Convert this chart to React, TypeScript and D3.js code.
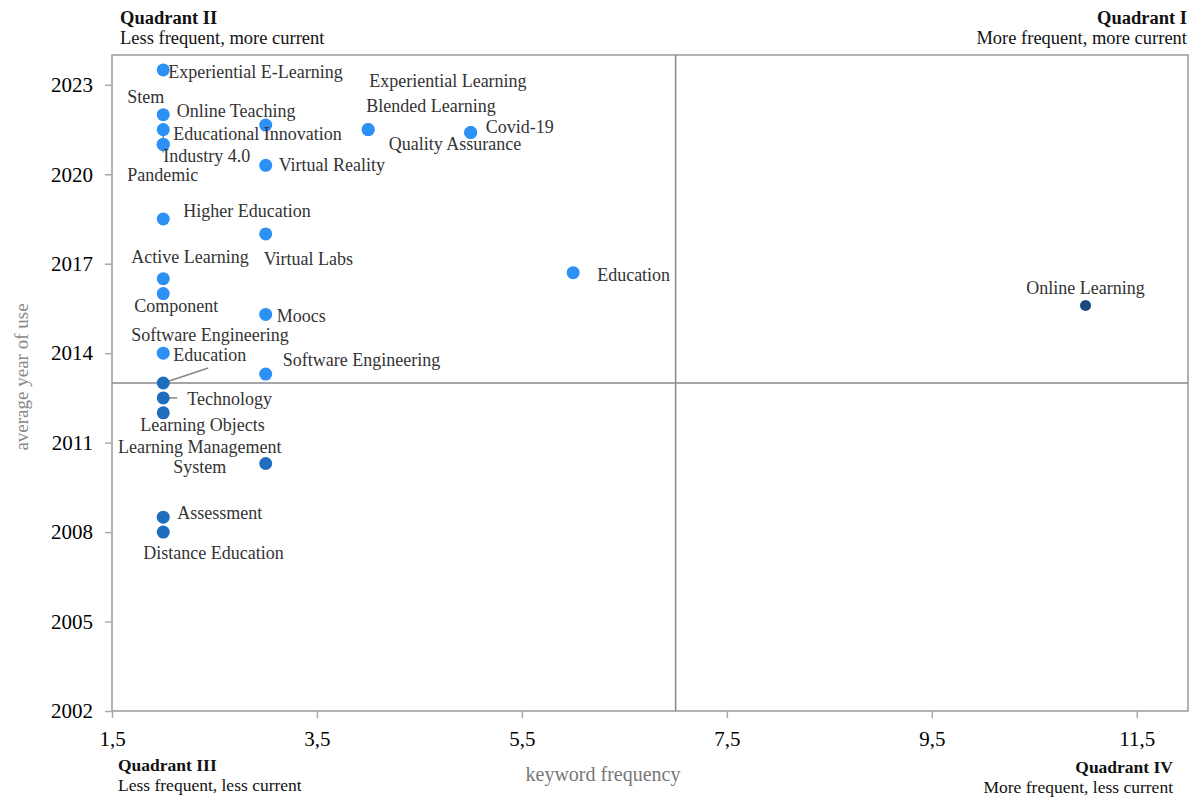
import React, { useEffect, useRef } from 'react';
import * as d3 from 'd3';

// keyword map data (frequency vs. average year of use)
const keywords = [
  'Experiential E-Learning', 'Stem', 'Online Teaching', 'Educational Innovation',
  'Industry 4.0', 'Pandemic', 'Experiential Learning', 'Blended Learning',
  'Covid-19', 'Quality Assurance', 'Virtual Reality', 'Higher Education',
  'Virtual Labs', 'Active Learning', 'Component', 'Moocs', 'Education',
  'Software Engineering', 'Education', 'Software Engineering', 'Technology',
  'Learning Objects', 'Learning Management System', 'Assessment',
  'Distance Education', 'Online Learning',
];
const frequency = [2, 2, 3, 2, 2, 2, 4, 4, 5, 5, 3, 2, 3, 2, 2, 3, 6, 2, 2, 3, 2, 2, 3, 2, 2, 11];
const avgYear = [
  2023.5, 2022, 2021.65, 2021.5, 2021, 2021, 2021.5, 2021.5, 2021.4, 2021.4, 2020.3,
  2018.5, 2018, 2016.5, 2016, 2015.3, 2016.7, 2014, 2013, 2013.3, 2012.5, 2012,
  2010.3, 2008.5, 2008, 2015.6,
];

const xTicks = [1.5, 3.5, 5.5, 7.5, 9.5, 11.5];
const yTicks = [2002, 2005, 2008, 2011, 2014, 2017, 2020, 2023];
const xSplit = 7;
const ySplit = 2013;

const quadTitles = ['Quadrant I', 'Quadrant II', 'Quadrant III', 'Quadrant IV'];
const quadSubs = [
  'More frequent, more current', 'Less frequent, more current',
  'Less frequent, less current', 'More frequent, less current',
];

// hand placed label offsets (px from the dot), like the original's manual layout
const labelLayout = [
  { dx: 5, dy: 8 }, { dx: -36, dy: -12 }, { dx: -89, dy: -8 }, { dx: 10, dy: 10 },
  { dx: 0, dy: 17.5, leader: [0, -15, 0, 8] }, { dx: -36, dy: 36.5 },
  { dx: 1, dy: -42.5 }, { dx: -2, dy: -17.5 }, { dx: 15, dy: 0.5 }, { dx: -82, dy: 17.5 },
  { dx: 13, dy: 6 }, { dx: 20, dy: -2 }, { dx: -2, dy: 31 }, { dx: -32, dy: -15.5 },
  { dx: -29, dy: 18.5 }, { dx: 11, dy: 7.5 }, { dx: 24, dy: 8 }, { dx: -32, dy: -12 },
  { dx: 10, dy: -22, leader: [0, 0, 45, -15] }, { dx: 17, dy: -8 },
  { dx: 24, dy: 7, leader: [0, 0, 14, 0] }, { dx: -23, dy: 18 },
  { dx: -66, dy: -10.5, anchor: 'middle', lines: ['Learning Management', 'System'] },
  { dx: 14, dy: 2 }, { dx: -20, dy: 27 }, { dx: 0, dy: -11.5, anchor: 'middle' },
];

const W = 1195;
const H = 798;
const margin = { top: 55, right: 7, bottom: 87, left: 112 };
const font = '"Liberation Serif", "Times New Roman", serif';

export default function App() {
  const svgRef = useRef<SVGSVGElement>(null);

  useEffect(() => {
    const svg = d3.select(svgRef.current);
    svg.selectAll('*').remove();

    const x = d3.scaleLinear([1.5, 12], [margin.left, W - margin.right]);
    const y = d3.scaleLinear([2002, 2024], [H - margin.bottom, margin.top]);
    const comma = d3.formatLocale({ decimal: ',', thousands: '.', grouping: [3], currency: ['', ''] }).format('.1f');

    const color = (f, yr) => (yr <= ySplit ? '#1f6dbd' : f > xSplit ? '#19497f' : '#2c90f4');

    // frame
    svg.append('rect')
      .attr('x', x(1.5)).attr('y', y(2024))
      .attr('width', x(12) - x(1.5)).attr('height', y(2002) - y(2024))
      .attr('fill', 'none').attr('stroke', '#999').attr('stroke-width', 1.5);

    // quadrant split lines
    svg.append('line')
      .attr('x1', x(xSplit)).attr('x2', x(xSplit)).attr('y1', y(2024)).attr('y2', y(2002))
      .attr('stroke', '#888').attr('stroke-width', 1.5);
    svg.append('line')
      .attr('x1', x(1.5)).attr('x2', x(12)).attr('y1', y(ySplit)).attr('y2', y(ySplit))
      .attr('stroke', '#888').attr('stroke-width', 1.5);

    const gx = svg.append('g')
      .attr('transform', `translate(0,${y(2002)})`)
      .call(d3.axisBottom(x).tickValues(xTicks).tickFormat(comma).tickSize(7).tickPadding(13));
    const gy = svg.append('g')
      .attr('transform', `translate(${x(1.5)},0)`)
      .call(d3.axisLeft(y).tickValues(yTicks).tickFormat(d3.format('d')).tickSize(7).tickPadding(12));
    [gx, gy].forEach(g => {
      g.select('.domain').remove();
      g.selectAll('.tick line').attr('stroke', '#aaa').attr('stroke-width', 1.5);
      g.selectAll('.tick text')
        .attr('fill', '#000').style('font-family', font).style('font-size', '21px');
    });

    // axis titles
    svg.append('text')
      .attr('x', 603).attr('y', 781).attr('text-anchor', 'middle')
      .attr('fill', '#777').style('font-family', font).style('font-size', '20px')
      .text('keyword frequency');
    svg.append('text')
      .attr('transform', 'translate(28,377) rotate(-90)').attr('text-anchor', 'middle')
      .attr('fill', '#888').style('font-family', font).style('font-size', '19px')
      .text('average year of use');

    // quadrant captions
    const corners = [
      { x: W - 8, y: 24, anchor: 'end' },
      { x: 120, y: 24, anchor: 'start' },
      { x: 118, y: 771, anchor: 'start' },
      { x: 1173, y: 773, anchor: 'end' },
    ];
    corners.forEach((c, i) => {
      const t = svg.append('text')
        .attr('x', c.x).attr('y', c.y).attr('text-anchor', c.anchor)
        .attr('fill', '#111').style('font-family', font).style('font-size', i < 2 ? '18.5px' : '17.5px');
      t.append('tspan').attr('font-weight', 'bold').text(quadTitles[i]);
      t.append('tspan').attr('x', c.x).attr('dy', 20).text(quadSubs[i]);
    });

    const data = keywords.map((k, i) => ({
      name: k, f: frequency[i], yr: avgYear[i], lay: labelLayout[i],
    }));

    // leader lines
    svg.append('g').selectAll('line')
      .data(data.filter(d => d.lay.leader))
      .join('line')
      .attr('x1', d => x(d.f) + d.lay.leader[0]).attr('y1', d => y(d.yr) + d.lay.leader[1])
      .attr('x2', d => x(d.f) + d.lay.leader[2]).attr('y2', d => y(d.yr) + d.lay.leader[3])
      .attr('stroke', '#888').attr('stroke-width', 1.5);

    // dots
    svg.append('g').selectAll('circle')
      .data(data)
      .join('circle')
      .attr('cx', d => x(d.f)).attr('cy', d => y(d.yr))
      .attr('r', d => (d.f > xSplit ? 5.5 : 6.5))
      .attr('fill', d => color(d.f, d.yr));

    // labels
    const labels = svg.append('g')
      .style('font-family', font).style('font-size', '18px').attr('fill', '#333')
      .selectAll('text')
      .data(data)
      .join('text')
      .attr('x', d => x(d.f) + d.lay.dx)
      .attr('y', d => y(d.yr) + d.lay.dy)
      .attr('text-anchor', d => d.lay.anchor || 'start');
    labels.each(function (d) {
      const lines = d.lay.lines || [d.name];
      const t = d3.select(this);
      lines.forEach((ln, j) => {
        t.append('tspan').attr('x', x(d.f) + d.lay.dx).attr('dy', j === 0 ? 0 : 20).text(ln);
      });
    });
  }, []);

  return (
    <svg
      ref={svgRef}
      width={W}
      height={H}
      style={{ position: 'absolute', left: 0, top: 0, background: '#fff' }}
    />
  );
}
